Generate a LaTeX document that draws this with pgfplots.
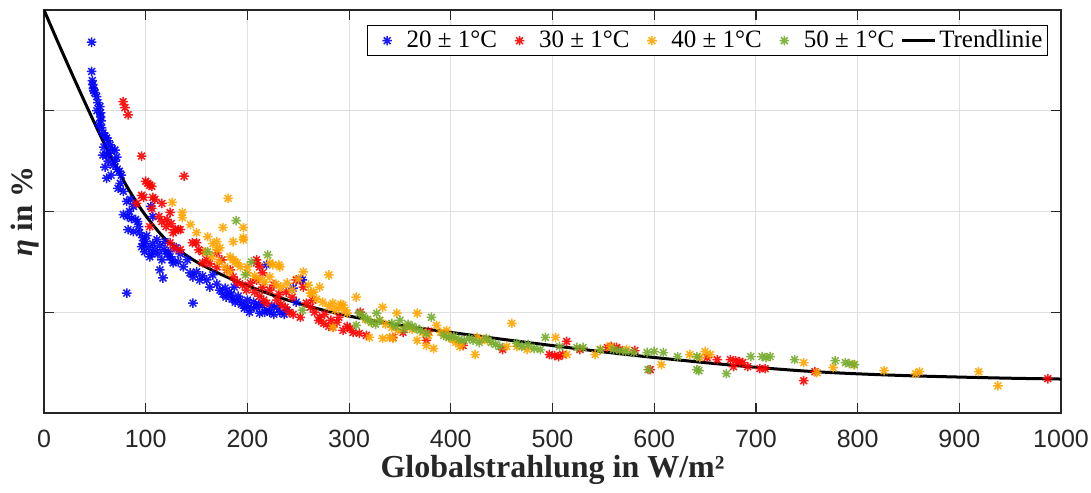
\documentclass[border=0pt]{standalone}
\usepackage{fontspec}
\setmainfont{Liberation Serif}
\newfontfamily\sansf{Liberation Sans}
\usepackage{pgfplots}
\pgfplotsset{compat=1.18}
\definecolor{cblue}{RGB}{0,0,255}
\definecolor{cred}{RGB}{255,0,0}
\definecolor{corange}{RGB}{255,165,0}
\definecolor{cgreen}{RGB}{119,172,48}
\definecolor{axgray}{RGB}{38,38,38}
\pgfdeclareplotmark{ast8}{%
 \pgfpathmoveto{\pgfqpoint{-\pgfplotmarksize}{0pt}}\pgfpathlineto{\pgfqpoint{\pgfplotmarksize}{0pt}}%
 \pgfpathmoveto{\pgfqpoint{0pt}{-\pgfplotmarksize}}\pgfpathlineto{\pgfqpoint{0pt}{\pgfplotmarksize}}%
 \pgfpathmoveto{\pgfqpoint{-0.707\pgfplotmarksize}{-0.707\pgfplotmarksize}}\pgfpathlineto{\pgfqpoint{0.707\pgfplotmarksize}{0.707\pgfplotmarksize}}%
 \pgfpathmoveto{\pgfqpoint{-0.707\pgfplotmarksize}{0.707\pgfplotmarksize}}\pgfpathlineto{\pgfqpoint{0.707\pgfplotmarksize}{-0.707\pgfplotmarksize}}%
 \pgfusepathqstroke}
\pgfplotsset{
 scat/.style={only marks, mark=ast8, line width=0.75pt, opacity=0.9,
  legend image code/.code={\path[draw=none,fill=none] (0pt,-3pt) rectangle (16.5pt,3pt);
   \draw[mark repeat=2,mark phase=2,##1] plot coordinates {(0pt,0pt) (8.25pt,0pt) (16.5pt,0pt)};}},
 trend/.style={black, line width=1.5pt, smooth, no marks,
  legend image code/.code={\draw[##1] (0pt,0pt) -- (16.5pt,0pt);}},
}
\begin{document}
\begin{tikzpicture}
\begin{axis}[name=ax,
 scale only axis, width=508.5pt, height=201.5pt,
 xmin=0, xmax=1000, ymin=0, ymax=4,
 xtick={0,100,...,1000}, ytick={0,1,2,3,4}, yticklabels={},
 tick pos=both, tick align=inside, major tick length=5pt,
 axis line style={axgray, line width=0.6pt},
 every tick/.style={axgray, line width=0.6pt},
 grid=major, major grid style={gray!25, line width=0.5pt},
 xticklabel style={font=\sansf\fontsize{12.5}{14}\selectfont, text=axgray, /pgf/number format/1000 sep={}, /pgf/number format/assume math mode=true, yshift=-5pt},
 xlabel={\textbf{Globalstrahlung in W/m²}},
 xlabel style={font=\fontsize{16}{18}\selectfont, text=axgray, at={(axis description cs:0.5,-0.1613)}, anchor=base},
 ylabel={\textbf{\textit{η} in \%}},
 ylabel style={font=\fontsize{15.5}{17}\selectfont, text=axgray, at={(axis description cs:-0.0187,0.5)}, anchor=center},
 legend style={at={(1,1)}, anchor=north east, xshift=-6.5pt, yshift=-7.5pt, draw=black, line width=0.5pt, font=\fontsize{12.5}{14}\selectfont, inner sep=1.5pt, nodes={inner sep=1pt},
  /tikz/every even column/.append style={column sep=2pt},
  /tikz/every odd column/.append style={column sep=0.5pt}},
 legend columns=5,
 mark size=2.4pt,
]
\addplot[scat, draw=cblue] table {
x y
46.9 3.68
46.9 3.39
47.5 3.30
48 3.26
48.5 3.22
49 3.20
50 3.18
51.8 3.14
53 3.08
55 3.04
55.7 2.98
55.7 2.94
56 2.90
56.7 2.83
58 2.78
60 2.75
61.6 2.73
63 2.70
65 2.66
67 2.62
69.8 2.61
58 2.56
71.5 2.54
60 2.44
61.6 2.56
63 2.50
68 2.46
72 2.42
74 2.40
61.6 2.33
66 2.36
72.8 2.23
75 2.28
78 2.20
81.3 2.10
85 2.12
88 2.05
78 1.97
82 1.95
86 1.93
90 1.92
92 1.90
82.6 1.82
94 1.79
97 1.74
100 1.70
103 1.64
104 1.55
96 1.65
99 1.60
101 1.76
107 1.68
111 1.72
114 1.66
118 1.62
121 1.58
124 1.55
127 1.49
116 1.52
112 1.58
109 1.62
114 1.42
117 1.34
122 1.60
130 1.64
134 1.58
137 1.45
141 1.52
143.6 1.39
146.5 1.35
150 1.40
153 1.32
156 1.36
81.4 1.19
146.5 1.09
160 1.32
166 1.37
173 1.22
176 1.18
179 1.15
182 1.20
185 1.13
188 1.10
191 1.16
194 1.08
197 1.04
200 1.12
202 1.00
206 1.10
209 1.05
212 0.99
215 1.07
219 1.02
222 1.00
226 0.98
229 1.05
232 1.00
236 0.98
239 1.02
219 1.47
245 1.24
248 1.10
252 1.32
254 1.32
170 1.28
163 1.25
187 1.25
105 2.05
107 1.95
93 1.85
88 1.80
52 3.00
54 2.86
59 2.64
64 2.58
70 2.50
76 2.36
84 2.00
98 1.68
106 1.58
119 1.70
126 1.52
132 1.50
178 1.24
184 1.17
193 1.12
199 1.06
204 1.04
211 1.08
217 1.00
224 1.06
};
\addlegendentry{20 ± 1°C}
\addplot[scat, draw=cred] table {
x y
77.8 3.09
79.6 3.03
82.6 2.96
96 2.55
137.7 2.35
100 2.30
102 2.28
104 2.26
106 2.25
98 2.14
107 2.14
109 2.12
96 2.16
116 2.08
91 2.08
106 2.03
124 1.99
121 1.92
125 1.88
129 1.82
132 1.82
113 1.95
116 1.90
120 1.85
104 1.85
124 1.69
127 1.79
134 1.82
128 1.64
134 1.62
146 1.69
150 1.69
152 1.62
156 1.60
160 1.52
156 1.49
163 1.48
170 1.45
170 1.59
175 1.52
180 1.42
183 1.42
209 1.52
212 1.45
215 1.39
209 1.49
186 1.35
190 1.30
195 1.27
199 1.22
203 1.29
207 1.20
212 1.16
216 1.12
219 1.09
209 1.32
215 1.25
222 1.22
229 1.12
233 1.08
237 1.05
241 1.00
245 0.98
248 1.32
252 0.95
255 1.25
258 1.09
262 1.05
266 1.00
271 0.95
264 1.12
270 0.92
275 0.89
280 0.86
284 0.85
288 0.90
294 0.82
298 0.86
301 0.84
304 0.80
310 0.79
317 0.77
311 1.00
276 0.98
282 0.92
290 0.95
343 0.75
353 0.80
376 0.72
378 0.81
412 0.67
451 0.63
497 0.58
502 0.57
506 0.56
510 0.58
514 0.71
527 0.63
554 0.65
558 0.66
563 0.65
566 0.63
581 0.62
596 0.43
652 0.55
662 0.53
675 0.53
680 0.52
684 0.51
687 0.50
678 0.46
692 0.46
704 0.44
709 0.44
747 0.32
758 0.41
987 0.34
231 1.18
226 1.27
238 1.20
244 1.15
};
\addlegendentry{30 ± 1°C}
\addplot[scat, draw=corange] table {
x y
126 2.09
181 2.13
136 1.99
136 1.94
144 1.87
150 1.79
161 1.75
176 1.84
196 1.84
186 1.70
196 1.74
196 1.72
170 1.70
170 1.62
166 1.68
173 1.64
159 1.60
165 1.55
172 1.50
178 1.45
182 1.40
183 1.55
188 1.50
193 1.45
186 1.52
190 1.49
200 1.45
222 1.49
225 1.47
231 1.47
232 1.45
200 1.39
207 1.36
212 1.33
217 1.30
222 1.35
228 1.28
233 1.25
239 1.29
244 1.22
250 1.33
255 1.40
260 1.27
265 1.20
271 1.25
280 1.37
262 1.19
268 1.13
274 1.10
280 1.06
286 1.02
292 1.08
298 0.99
284 0.85
294 1.07
307 1.15
263 1.19
284 1.09
290 1.04
296 1.02
333 1.05
347 0.99
367 0.99
330 0.92
336 0.88
342 0.85
348 0.82
333 0.74
340 0.75
343 0.74
376 0.67
383 0.64
367 0.72
386 0.87
390 0.80
396 0.76
402 0.73
410 0.70
320 0.75
460 0.89
424 0.58
396 0.82
400 0.76
405 0.70
409 0.66
426 0.75
431 0.73
436 0.72
455 0.66
465 0.66
475 0.63
503 0.75
514 0.58
542 0.58
547 0.63
557 0.66
573 0.63
607 0.48
635 0.58
650 0.61
655 0.58
645 0.55
747 0.50
760 0.40
776 0.45
796 0.48
826 0.42
857 0.39
861 0.41
919 0.41
938 0.27
316 0.93
322 0.90
357 0.86
362 0.83
372 0.80
378 0.77
};
\addlegendentry{40 ± 1°C}
\addplot[scat, draw=cgreen] table {
x y
189 1.91
161 1.60
220 1.57
204 1.50
198 1.37
254 1.02
307 0.87
381 0.95
310 0.99
314 0.96
318 0.93
322 0.90
326 0.88
330 0.92
327 0.99
342 0.89
346 0.86
350 0.92
354 0.83
358 0.88
362 0.86
366 0.84
370 0.82
376 0.79
393 0.77
398 0.75
403 0.76
408 0.73
413 0.72
418 0.74
422 0.72
428 0.70
435 0.74
440 0.70
444 0.68
448 0.66
465 0.69
470 0.66
476 0.68
482 0.64
488 0.63
493 0.75
507 0.66
524 0.65
530 0.65
547 0.63
560 0.63
566 0.62
572 0.61
580 0.60
593 0.60
600 0.61
609 0.60
594 0.43
623 0.56
642 0.43
644 0.42
642 0.56
671 0.39
695 0.56
706 0.56
710 0.55
714 0.56
738 0.53
778 0.52
788 0.50
792 0.49
797 0.48
};
\addlegendentry{50 ± 1°C}
\addplot[trend] table {
x y
0 4.00
15 3.65
30 3.31
44 3.00
58 2.70
70 2.46
82 2.24
95 2.03
108 1.855
120 1.72
135 1.60
150 1.50
170 1.395
190 1.305
210 1.225
235 1.135
260 1.06
285 0.995
311 0.94
350 0.87
389 0.815
448 0.735
507 0.66
547 0.61
596 0.555
650 0.50
698 0.455
750 0.415
797 0.39
850 0.37
898 0.357
950 0.345
1000 0.337
};
\addlegendentry{Trendlinie}
\end{axis}
\pgfresetboundingbox
\path[use as bounding box] ([shift={(-22pt,-40pt)}]ax.south west) rectangle ([shift={(15pt,5pt)}]ax.north east);
\end{tikzpicture}
\end{document}
